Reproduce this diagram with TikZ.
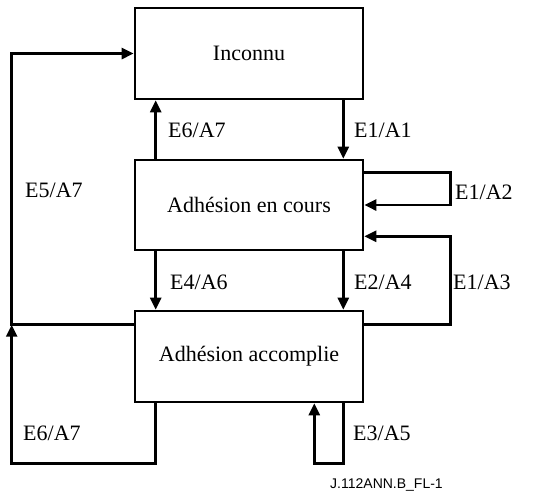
\documentclass[tikz,border=0pt]{standalone}
\usepackage{fontspec}
\setmainfont{Liberation Serif}
\newfontfamily\footfont{Liberation Sans}
\usetikzlibrary{arrows.meta}
\begin{document}
\begin{tikzpicture}[x=1pt,y=-1pt,
  statebox/.style={draw,line width=2.6pt,minimum width=228pt,minimum height=91pt,
    inner sep=0pt,font=\fontsize{22}{26}\selectfont},
  arr/.style={line width=2.6pt,-{Triangle[length=12pt,width=11pt]}},
  lbl/.style={anchor=west,inner sep=0pt,font=\fontsize{22}{26}\selectfont}]
\useasboundingbox (0,0) rectangle (554,493);

% states
\node[statebox] (inconnu) at (249,53.5) {Inconnu};
\node[statebox,minimum height=90pt] (cours) at (249,205) {Adhésion en cours};
\node[statebox] (accomplie) at (249,356.5) {Adhésion accomplie};

% junction on the left return line
\coordinate (junc) at ([xshift=-122pt,yshift=-15pt]accomplie.north west);

% transitions
\draw[arr] ([xshift=22pt]cours.north west) -- ([xshift=22pt]inconnu.south west);
\draw[arr] ([xshift=-21pt]inconnu.south east) -- ([xshift=-21pt]cours.north east);
\draw[arr] ([yshift=-14pt]cours.north east) -- ++(86,0) |- (cours.east);
\draw[arr] ([yshift=-15pt]accomplie.north east) -- ++(86,0) |- ([yshift=15pt]cours.south east);
\draw[arr] ([xshift=22pt]cours.south west) -- ([xshift=22pt]accomplie.north west);
\draw[arr] ([xshift=-21pt]cours.south east) -- ([xshift=-21pt]accomplie.north east);
\draw[arr] (accomplie.west |- junc) -- (junc) |- (inconnu.west);
\draw[arr] ([xshift=22pt]accomplie.south west) -- ++(0,60) -| (junc);
\draw[arr] ([xshift=-21pt]accomplie.south east) -- ++(0,60) -| ([xshift=-50pt]accomplie.south east);

% labels
\node[lbl] (l1) at (168,130) {E6/A7};
\node[lbl] (l2) at (354,130) {E1/A1};
\node[lbl] (l3) at (25,190) {E5/A7};
\node[lbl] (l4) at (455,192) {E1/A2};
\node[lbl] (l5) at (170,282) {E4/A6};
\node[lbl] (l6) at (354,282) {E2/A4};
\node[lbl] (l7) at (453,282) {E1/A3};
\node[lbl] (l8) at (23,433) {E6/A7};
\node[lbl] (l9) at (353,433) {E3/A5};
\node[anchor=west,inner sep=0pt,font=\footfont\fontsize{14}{16}\selectfont] (ref) at (330,485) {J.112ANN.B\_FL-1};
\end{tikzpicture}
\end{document}
